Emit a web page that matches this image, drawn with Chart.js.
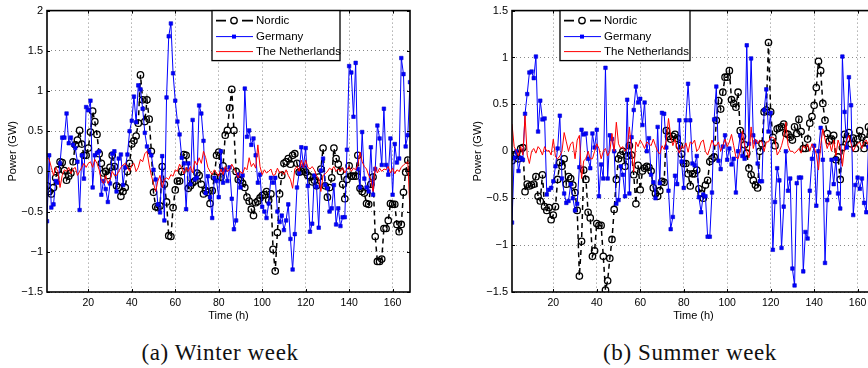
<!DOCTYPE html>
<html>
<head>
<meta charset="utf-8">
<script src="https://cdn.jsdelivr.net/npm/chart.js@4.4.0/dist/chart.umd.min.js"></script>
<style>
html, body { margin: 0; padding: 0; background: #fff; }
.wrap { position: relative; width: 868px; height: 368px; overflow: hidden; }
canvas { position: absolute; top: 0; }
#winterChart { left: 0; }
#summerChart { left: 465px; }
.caption {
    position: absolute; top: 339px; line-height: 28px;
    font-family: 'Liberation Serif', 'DejaVu Serif', serif; font-size: 23px;
    letter-spacing: 0.6px; color: #111; white-space: nowrap; transform: translateX(-50%);
}
</style>
</head>
<body>
<div class="wrap">
    <canvas id="winterChart" width="430" height="330"></canvas>
    <canvas id="summerChart" width="430" height="330"></canvas>
    <div class="caption" style="left:220px">(a) Winter week</div>
    <div class="caption" style="left:690px">(b) Summer week</div>
</div>
<script>
// hours of the week, 1..168
const hours = [];
for (let h = 1; h <= 168; h++) hours.push(h);

const xTicks = [20, 40, 60, 80, 100, 120, 140, 160];
const winterYTicks = [-1.5, -1, -0.5, 0, 0.5, 1, 1.5, 2];
const summerYTicks = [-1.5, -1, -0.5, 0, 0.5, 1, 1.5];
const seriesNames = ['Nordic', 'Germany', 'The Netherlands'];

// winter week (GW)
const winterNordic = [
    -0.18, -0.25, -0.28, -0.2, -0.08, 0.02, 0.12, 0.11, 0.01, -0.11,
    -0.06, -0.02, 0.12, 0.33, 0.39, 0.51, 0.34, 0.2, 0.2, 0.29,
    0.49, 0.75, 0.62, 0.46, 0.22, 0.1, -0.02, 0.0, -0.05, 0.05,
    0.2, 0.06, -0.18, -0.2, -0.31, -0.25, -0.2, 0.0, 0.1, 0.34,
    0.38, 0.44, 0.6, 1.2, 0.89, 0.62, 0.89, 0.65, 0.25, -0.26,
    -0.44, -0.45, -0.43, 0.06, -0.16, -0.38, -0.8, -0.81, -0.45, -0.23,
    -0.12, -0.12, 0.0, 0.21, 0.2, -0.21, -0.18, -0.14, -0.12, -0.02,
    -0.05, -0.16, -0.28, -0.24, -0.26, -0.4, -0.24, -0.07, 0.2, 0.24,
    -0.07, 0.07, 0.45, 0.51, 0.79, 1.02, 0.51, 0.0, -0.1, -0.11,
    -0.15, -0.2, -0.32, -0.37, -0.47, -0.55, -0.39, -0.37, -0.33, -0.3,
    -0.29, -0.25, -0.36, -0.28, -0.97, -1.24, -0.76, -0.28, -0.05, 0.1,
    0.12, 0.16, 0.09, 0.2, 0.22, 0.1, -0.01, 0.0, 0.03, -0.01,
    -0.05, -0.07, -0.13, -0.11, -0.18, -0.07, 0.03, 0.29, -0.18, -0.32,
    -0.2, -0.08, 0.29, 0.16, 0.09, 0.0, -0.16, -0.34, -0.1, 0.07,
    -0.06, -0.06, -0.06, 0.2, -0.21, -0.25, -0.27, -0.4, -0.41, -0.16,
    -0.07, -0.81, -1.12, -1.12, -1.09, -0.71, -0.71, -0.61, -0.4, -0.41,
    -0.41, -0.66, -0.75, -0.66, -0.26, -0.01, 0.14, -0.01
];
const winterGermany = [
    -0.62, 0.2, -0.45, -0.41, -0.12, -0.14, 0.1, 0.42, 0.42, 0.72,
    0.35, 0.42, 0.33, 0.29, 0.12, -0.48, 0.2, -0.09, 0.8, 0.76,
    0.88, -0.2, 0.2, 0.23, 0.25, -0.29, -0.12, -0.22, -0.38, -0.15,
    0.22, 0.25, -0.25, 0.16, 0.21, -0.17, 0.05, 0.21, 0.5, 0.63,
    0.93, 0.61, 1.07, 1.02, 0.78, 0.48, 0.31, 0.25, 0.2, 0.02,
    -0.1, -0.41, -0.51, 0.19, -0.61, 0.92, 1.68, 1.84, 1.22, 0.88,
    0.62, 0.46, 0.17, 0.1, -0.47, 0.1, -0.16, 0.64, -0.1, -0.08,
    0.82, 0.72, 0.38, -0.27, -0.06, -0.32, -0.58, -0.08, -0.12, -0.32,
    0.25, -0.14, 0.02, -0.12, 0.05, -0.34, -0.72, -0.61, -0.04, -0.2,
    -0.05, 1.03, 0.43, 0.51, 0.33, 0.41, 0.2, -0.14, -0.04, -0.44,
    -0.5, -0.58, -0.4, -0.08, -0.14, -0.08, -0.5, -0.63, -0.55, -0.73,
    -0.61, -0.41, -0.84, -1.22, -0.78, -0.2, -0.02, 0.3, 0.07, 0.29,
    -0.18, -0.75, -0.65, -0.05, -0.19, -0.7, 0.01, 0.16, -0.17, -0.21,
    -0.5, -0.46, -0.17, -0.66, -0.46, -0.68, -0.57, -0.57, 0.27, 1.31,
    1.23, 0.68, 1.35, 0.03, -0.2, 0.49, -0.09, -0.2, -0.25, 0.3,
    -0.29, 0.03, 0.57, 0.41, 0.08, 0.78, 0.08, -0.04, 0.41, -0.29,
    0.34, 0.11, 0.16, 1.41, 1.21, 0.31, 0.45, 1.11
];
const winterNetherlands = [
    0.17, 0.15, 0.05, -0.05, 0.05, 0.0, -0.2, -0.05, 0.02, 0.0,
    0.05, -0.03, 0.03, 0.05, -0.05, 0.0, 0.05, 0.1, 0.05, 0.1,
    0.12, 0.05, 0.15, 0.1, 0.02, -0.1, -0.15, -0.05, -0.15, -0.1,
    0.0, -0.05, -0.05, 0.0, 0.05, 0.08, 0.1, 0.05, 0.0, 0.08,
    0.1, 0.0, 0.05, 0.15, 0.12, 0.22, 0.25, 0.08, -0.05, -0.15,
    -0.25, -0.12, -0.05, -0.2, -0.1, -0.08, -0.1, -0.04, -0.06, 0.02,
    0.0, 0.09, 0.04, -0.03, 0.05, 0.0, 0.06, -0.02, 0.13, 0.08,
    0.17, 0.1, 0.25, 0.17, 0.05, 0.0, -0.04, 0.02, -0.02, -0.06,
    0.03, -0.04, 0.06, 0.0, 0.02, 0.09, 0.04, -0.02, -0.08, 0.0,
    -0.03, 0.05, 0.02, 0.17, 0.06, 0.1, 0.04, 0.33, 0.06, -0.04,
    0.02, -0.02, 0.0, 0.03, -0.05, -0.04, 0.04, -0.02, 0.0, -0.04,
    0.02, -0.05, -0.1, -0.21, 0.03, 0.06, 0.0, 0.14, 0.05, 0.14,
    0.05, 0.03, 0.06, 0.02, -0.05, -0.1, -0.25, -0.05, -0.03, 0.0,
    0.04, 0.02, 0.06, 0.0, 0.03, 0.0, 0.05, -0.02, 0.03, 0.06,
    0.0, 0.04, 0.02, 0.08, 0.24, 0.12, 0.06, 0.03, -0.05, -0.1,
    -0.25, 0.06, -0.02, 0.04, 0.0, 0.03, 0.02, 0.06, -0.02, 0.04,
    -0.03, 0.02, 0.0, 0.05, 0.08, 0.1, 0.12, -0.5
];

// summer week (GW)
const summerNordic = [
    -0.1, -0.05, -0.03, -0.08, 0.03, 0.04, -0.43, -0.35, -0.37, -0.36,
    -0.35, -0.27, -0.48, -0.53, -0.25, -0.59, -0.63, -0.6, -0.73, -0.68,
    -0.59, -0.3, -0.12, -0.16, -0.08, -0.35, -0.27, -0.29, -0.36, -0.44,
    -0.63, -1.33, -0.96, -0.2, -0.3, -0.65, -0.71, -1.12, -1.06, -0.77,
    -0.79, -0.79, -1.12, -1.48, -1.38, -1.14, -0.94, -0.62, -0.3, -0.08,
    -0.04, 0.0, -0.16, -0.05, 0.06, -0.04, -0.25, -0.56, -0.15, -0.41,
    -0.21, -0.18, -0.16, -0.17, -0.21, -0.39, -0.45, -0.48, -0.42, -0.32,
    -0.33, 0.22, 0.16, 0.13, 0.16, 0.18, 0.14, 0.06, -0.03, -0.13,
    -0.13, -0.24, -0.37, -0.24, -0.24, -0.2, -0.4, -0.45, -0.5, -0.36,
    -0.31, -0.11, -0.08, -0.06, 0.33, 0.54, 0.45, 0.63, 0.79, 0.79,
    0.86, 0.55, 0.51, 0.47, 0.63, 0.22, 0.16, 0.07, -0.02, -0.18,
    -0.25, -0.31, -0.36, -0.39, 0.0, 0.08, 0.42, 0.44, 1.16, 0.42,
    0.15, 0.06, 0.24, 0.25, 0.26, 0.29, 0.19, 0.18, 0.15, 0.12,
    0.26, 0.19, 0.34, 0.21, 0.03, 0.03, 0.13, 0.3, 0.37, 0.49,
    0.68, 0.96, 0.86, 0.51, 0.33, 0.19, 0.11, 0.13, 0.17, -0.09,
    -0.06, -0.3, 0.04, 0.18, 0.13, 0.2, 0.08, 0.14, 0.03, 0.13,
    0.22, 0.15, 0.03, 0.12, 0.26, 0.22, 0.25, 0.2
];
const summerGermany = [
    -0.76, -0.07, 0.0, -0.21, -0.07, -0.09, 0.4, 0.61, 0.84, 0.85,
    0.78, 1.01, 0.21, 0.54, 0.34, 0.35, -0.46, -0.41, -0.39, -0.32,
    -0.16, 0.03, 0.38, -0.29, -0.45, -0.55, -0.53, -0.35, -0.5, -0.63,
    -0.56, -0.17, 0.23, 0.18, 0.19, -0.08, -0.18, 0.19, 0.04, 0.23,
    -0.48, -0.14, -0.29, 0.89, -0.29, 0.17, 0.13, 0.0, -0.56, -0.52,
    -0.16, -0.25, -0.48, 0.55, -0.45, 0.15, 0.44, 0.69, 0.52, 0.56,
    0.28, 0.52, 0.0, 0.14, -0.25, -0.33, -0.5, 0.26, -0.34, 0.41,
    0.4, 0.04, -0.42, -0.83, -0.7, -0.26, -0.35, 0.33, -0.11, -0.39,
    0.33, 0.72, 0.33, -0.13, -0.15, -0.05, -0.49, -0.65, -0.46, -0.48,
    -0.91, -0.91, -0.44, 0.34, 0.69, -0.1, -0.19, 0.05, 0.17, -0.09,
    0.03, -0.14, -0.08, -0.44, 0.0, 0.17, -0.05, -0.08, 1.13, 0.08,
    0.99, 0.17, 0.1, -0.13, -0.32, -0.32, 0.44, 0.66, 0.21, 0.41,
    -1.05, -0.54, -0.18, -0.31, -1.03, -0.59, 0.0, -0.42, -0.29, -1.25,
    -1.43, -0.34, -0.28, -0.28, -1.28, -0.86, -0.93, -0.42, -0.08, 0.06,
    -0.58, 0.0, 0.25, -0.09, -1.19, -0.52, -0.44, -0.09, -0.35, -0.08,
    -0.45, -0.61, 1.01, 0.42, 0.04, 0.79, 0.49, -0.68, -0.36, -0.28,
    -0.4, -0.29, -0.55, -0.65, 0.05, -0.2, 0.1, 0.0
];
const summerNetherlands = [
    0.29, 0.05, 0.0, -0.05, 0.05, -0.04, 0.38, -0.04, -0.13, 0.0,
    0.03, -0.02, 0.05, 0.02, -0.04, 0.05, 0.0, 0.01, -0.04, 0.13,
    -0.06, -0.08, -0.05, 0.0, 0.2, 0.1, 0.0, 0.08, 0.1, -0.08,
    0.12, 0.17, -0.29, -0.1, -0.08, 0.0, -0.08, -0.08, 0.0, 0.08,
    0.03, -0.08, 0.0, 0.03, -0.05, 0.0, 0.19, 0.0, 0.31, 0.08,
    0.03, 0.05, 0.0, 0.03, 0.26, 0.0, -0.22, 0.1, 0.05, 0.12,
    0.08, 0.03, 0.1, 0.08, 0.06, 0.13, 0.06, 0.0, -0.03, 0.06,
    0.02, 0.12, 0.35, 0.17, 0.06, 0.13, 0.03, -0.02, 0.06, 0.03,
    0.09, -0.01, 0.1, 0.08, 0.12, 0.0, 0.03, 0.1, 0.12, 0.0,
    -0.04, 0.03, 0.12, 0.06, 0.06, 0.1, 0.0, 0.06, 0.13, 0.05,
    0.1, 0.18, 0.06, -0.06, -0.08, 0.0, 0.22, 0.06, 0.0, -0.07,
    0.26, 0.03, 0.13, 0.08, 0.12, 0.1, 0.0, 0.1, 0.1, 0.15,
    0.15, 0.13, -0.04, 0.0, 0.06, 0.15, 0.31, 0.06, 0.0, 0.0,
    -0.02, 0.0, 0.03, -0.02, 0.06, 0.03, 0.08, 0.0, 0.08, 0.04,
    -0.03, -0.2, 0.06, 0.24, 0.13, 0.03, 0.1, 0.0, 0.12, -0.05,
    0.12, 0.05, -0.16, 0.05, 0.12, 0.17, 0.08, 0.0, 0.05, 0.08,
    0.1, 0.03, 0.1, 0.12, 0.06, 0.04, 0.08, 0.05
];

Chart.defaults.font.family = "'Liberation Sans', Arial, sans-serif";
Chart.defaults.color = '#000';

const toPoints = vals => vals.map((v, i) => ({ x: hours[i], y: v }));
const minus = v => String(Math.round(v * 10) / 10).replace('-', '\u2212');

// black frame with inner tick marks + the MATLAB style legend box
const framePlugin = {
    id: 'frameLegend',
    afterDraw(chart, args, opts) {
        const ctx = chart.ctx;
        const a = chart.chartArea;
        const xs = chart.scales.x, ys = chart.scales.y;
        ctx.save();
        ctx.strokeStyle = '#000';
        ctx.lineWidth = 1;
        ctx.beginPath();
        xTicks.forEach(t => {
            const px = Math.round(xs.getPixelForValue(t)) + 0.5;
            ctx.moveTo(px, a.bottom); ctx.lineTo(px, a.bottom - 3);
            ctx.moveTo(px, a.top); ctx.lineTo(px, a.top + 3);
        });
        opts.yTicks.forEach(t => {
            const py = Math.round(ys.getPixelForValue(t)) + 0.5;
            ctx.moveTo(a.left, py); ctx.lineTo(a.left + 3, py);
            ctx.moveTo(a.right, py); ctx.lineTo(a.right - 3, py);
        });
        ctx.stroke();
        ctx.lineWidth = 1.6;
        ctx.strokeRect(a.left, a.top, a.right - a.left, a.bottom - a.top);

        const x0 = a.left + opts.offset;
        const y0 = a.top;
        ctx.fillStyle = '#fff';
        ctx.fillRect(x0, y0, opts.width, 50);
        ctx.lineWidth = 1.3;
        ctx.strokeRect(x0, y0, opts.width, 50);

        const rows = [y0 + 10, y0 + 26, y0 + 41];
        ctx.font = "11.5px 'Liberation Sans', Arial, sans-serif";
        ctx.textBaseline = 'middle';

        // Nordic
        ctx.strokeStyle = '#000';
        ctx.lineWidth = 1.6;
        ctx.beginPath();
        ctx.moveTo(x0 + 4, rows[0]); ctx.lineTo(x0 + 14, rows[0]);
        ctx.moveTo(x0 + 30, rows[0]); ctx.lineTo(x0 + 41, rows[0]);
        ctx.stroke();
        ctx.lineWidth = 1.4;
        ctx.beginPath();
        ctx.arc(x0 + 22, rows[0], 3.2, 0, Math.PI * 2);
        ctx.stroke();
        // Germany
        ctx.strokeStyle = '#0000ff';
        ctx.lineWidth = 1;
        ctx.beginPath();
        ctx.moveTo(x0 + 4, rows[1]); ctx.lineTo(x0 + 41, rows[1]);
        ctx.stroke();
        ctx.fillStyle = '#0000ff';
        ctx.fillRect(x0 + 20, rows[1] - 2, 4, 4);
        // Netherlands
        ctx.strokeStyle = '#ff0000';
        ctx.beginPath();
        ctx.moveTo(x0 + 4, rows[2]); ctx.lineTo(x0 + 41, rows[2]);
        ctx.stroke();

        ctx.fillStyle = '#000';
        seriesNames.forEach((name, i) => ctx.fillText(name, x0 + 44, rows[i]));
        ctx.restore();
    }
};

function makeChart(id, nordic, germany, netherlands, yTicks, legendOffset, legendWidth) {
    const ctx = document.getElementById(id).getContext('2d');
    return new Chart(ctx, {
        type: 'line',
        data: {
            datasets: [{
                label: seriesNames[0],
                data: toPoints(nordic),
                borderColor: '#000',
                borderWidth: 1.5,
                borderDash: [5, 4],
                pointStyle: 'circle',
                pointRadius: 3.2,
                pointBorderWidth: 1.3,
                pointBorderColor: '#000',
                pointBackgroundColor: 'rgba(0,0,0,0)',
                order: 3
            }, {
                label: seriesNames[1],
                data: toPoints(germany),
                borderColor: '#0000ff',
                borderWidth: 1,
                pointStyle: 'rect',
                pointRadius: 2.5,
                pointBorderWidth: 0.6,
                pointBorderColor: '#0000cc',
                pointBackgroundColor: '#0000ff',
                order: 2
            }, {
                label: seriesNames[2],
                data: toPoints(netherlands),
                borderColor: '#ff0000',
                borderWidth: 1,
                pointRadius: 0,
                order: 1
            }]
        },
        options: {
            responsive: false,
            animation: false,
            devicePixelRatio: 1,
            events: [],
            layout: {
                padding: { left: 0, right: 20, top: 7, bottom: 0 }
            },
            elements: {
                line: { tension: 0 }
            },
            scales: {
                x: {
                    type: 'linear',
                    min: 1,
                    max: 168,
                    afterBuildTicks: scale => { scale.ticks = xTicks.map(v => ({ value: v })); },
                    afterFit: scale => { scale.height = 38; },
                    grid: { color: '#888', lineWidth: 1, drawTicks: false },
                    border: { display: false, dash: [1, 3] },
                    ticks: {
                        padding: 5,
                        maxRotation: 0,
                        font: { size: 10.5 },
                        callback: v => String(v)
                    },
                    title: {
                        display: true,
                        text: 'Time (h)',
                        font: { size: 11 },
                        padding: { top: 0, bottom: 7 }
                    }
                },
                y: {
                    min: yTicks[0],
                    max: yTicks[yTicks.length - 1],
                    afterBuildTicks: scale => { scale.ticks = yTicks.map(v => ({ value: v })); },
                    afterFit: scale => { scale.width = 47; },
                    grid: { color: '#888', lineWidth: 1, drawTicks: false },
                    border: { display: false, dash: [1, 3] },
                    ticks: {
                        padding: 4,
                        font: { size: 11 },
                        callback: v => minus(v)
                    },
                    title: {
                        display: true,
                        text: 'Power (GW)',
                        font: { size: 11 },
                        padding: { top: 6, bottom: 0 }
                    }
                }
            },
            plugins: {
                legend: { display: false },
                tooltip: { enabled: false },
                frameLegend: { offset: legendOffset, width: legendWidth, yTicks: yTicks }
            }
        },
        plugins: [framePlugin]
    });
}

makeChart('winterChart', winterNordic, winterGermany, winterNetherlands, winterYTicks, 165, 128);
makeChart('summerChart', summerNordic, summerGermany, summerNetherlands, summerYTicks, 48, 130);
</script>
</body>
</html>
